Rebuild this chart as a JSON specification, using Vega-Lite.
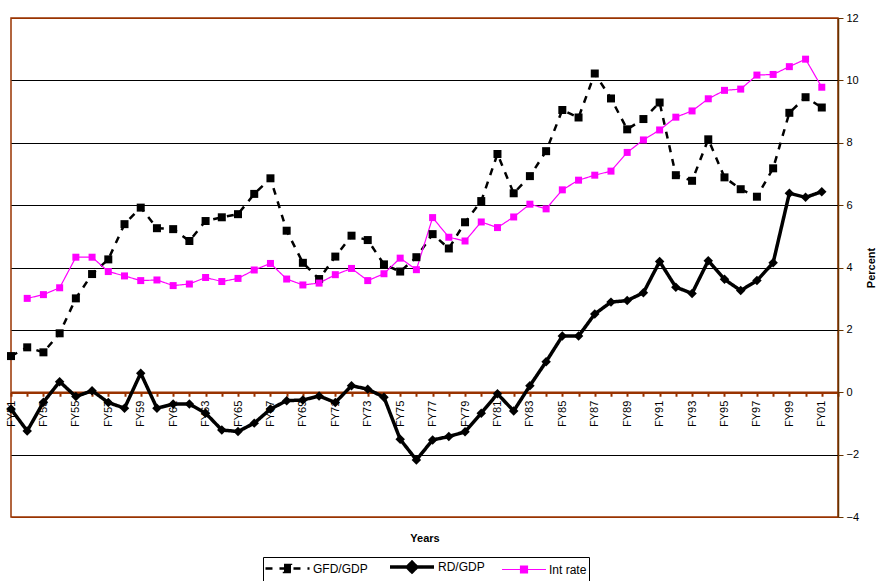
{
  "$schema": "https://vega.github.io/schema/vega-lite/v6.json",
  "width": 827,
  "height": 499,
  "autosize": {"type": "none"},
  "padding": {"left": 11, "top": 18, "right": 45, "bottom": 64},
  "background": "white",
  "config": {
    "font": "Liberation Sans",
    "view": {"stroke": "#993300", "strokeWidth": 1.5}
  },
  "data": {
    "values": [
      {"year": 1951, "GFD/GDP": 1.16, "RD/GDP": -0.54, "Int rate": null},
      {"year": 1952, "GFD/GDP": 1.44, "RD/GDP": -1.24, "Int rate": 3.01},
      {"year": 1953, "GFD/GDP": 1.28, "RD/GDP": -0.32, "Int rate": 3.13},
      {"year": 1954, "GFD/GDP": 1.89, "RD/GDP": 0.34, "Int rate": 3.35},
      {"year": 1955, "GFD/GDP": 3.01, "RD/GDP": -0.14, "Int rate": 4.33},
      {"year": 1956, "GFD/GDP": 3.79, "RD/GDP": 0.05, "Int rate": 4.33},
      {"year": 1957, "GFD/GDP": 4.26, "RD/GDP": -0.33, "Int rate": 3.87},
      {"year": 1958, "GFD/GDP": 5.39, "RD/GDP": -0.51, "Int rate": 3.73},
      {"year": 1959, "GFD/GDP": 5.92, "RD/GDP": 0.61, "Int rate": 3.58},
      {"year": 1960, "GFD/GDP": 5.26, "RD/GDP": -0.51, "Int rate": 3.6},
      {"year": 1961, "GFD/GDP": 5.23, "RD/GDP": -0.38, "Int rate": 3.42},
      {"year": 1962, "GFD/GDP": 4.85, "RD/GDP": -0.38, "Int rate": 3.47},
      {"year": 1963, "GFD/GDP": 5.49, "RD/GDP": -0.67, "Int rate": 3.68},
      {"year": 1964, "GFD/GDP": 5.61, "RD/GDP": -1.21, "Int rate": 3.55},
      {"year": 1965, "GFD/GDP": 5.71, "RD/GDP": -1.26, "Int rate": 3.65},
      {"year": 1966, "GFD/GDP": 6.36, "RD/GDP": -0.99, "Int rate": 3.92},
      {"year": 1967, "GFD/GDP": 6.86, "RD/GDP": -0.54, "Int rate": 4.13},
      {"year": 1968, "GFD/GDP": 5.18, "RD/GDP": -0.27, "Int rate": 3.63},
      {"year": 1969, "GFD/GDP": 4.15, "RD/GDP": -0.25, "Int rate": 3.44},
      {"year": 1970, "GFD/GDP": 3.63, "RD/GDP": -0.12, "Int rate": 3.5},
      {"year": 1971, "GFD/GDP": 4.35, "RD/GDP": -0.33, "Int rate": 3.77},
      {"year": 1972, "GFD/GDP": 5.02, "RD/GDP": 0.21, "Int rate": 3.97},
      {"year": 1973, "GFD/GDP": 4.88, "RD/GDP": 0.1, "Int rate": 3.58},
      {"year": 1974, "GFD/GDP": 4.1, "RD/GDP": -0.16, "Int rate": 3.8},
      {"year": 1975, "GFD/GDP": 3.87, "RD/GDP": -1.51, "Int rate": 4.3},
      {"year": 1976, "GFD/GDP": 4.33, "RD/GDP": -2.17, "Int rate": 3.93},
      {"year": 1977, "GFD/GDP": 5.07, "RD/GDP": -1.53, "Int rate": 5.6},
      {"year": 1978, "GFD/GDP": 4.61, "RD/GDP": -1.42, "Int rate": 4.97},
      {"year": 1979, "GFD/GDP": 5.45, "RD/GDP": -1.27, "Int rate": 4.85},
      {"year": 1980, "GFD/GDP": 6.13, "RD/GDP": -0.67, "Int rate": 5.46},
      {"year": 1981, "GFD/GDP": 7.64, "RD/GDP": -0.05, "Int rate": 5.28},
      {"year": 1982, "GFD/GDP": 6.38, "RD/GDP": -0.6, "Int rate": 5.62},
      {"year": 1983, "GFD/GDP": 6.93, "RD/GDP": 0.21, "Int rate": 6.03},
      {"year": 1984, "GFD/GDP": 7.73, "RD/GDP": 0.98, "Int rate": 5.88},
      {"year": 1985, "GFD/GDP": 9.05, "RD/GDP": 1.8, "Int rate": 6.49},
      {"year": 1986, "GFD/GDP": 8.81, "RD/GDP": 1.8, "Int rate": 6.8},
      {"year": 1987, "GFD/GDP": 10.22, "RD/GDP": 2.51, "Int rate": 6.96},
      {"year": 1988, "GFD/GDP": 9.42, "RD/GDP": 2.89, "Int rate": 7.09},
      {"year": 1989, "GFD/GDP": 8.43, "RD/GDP": 2.94, "Int rate": 7.69},
      {"year": 1990, "GFD/GDP": 8.76, "RD/GDP": 3.19, "Int rate": 8.09},
      {"year": 1991, "GFD/GDP": 9.29, "RD/GDP": 4.19, "Int rate": 8.41},
      {"year": 1992, "GFD/GDP": 6.96, "RD/GDP": 3.37, "Int rate": 8.82},
      {"year": 1993, "GFD/GDP": 6.78, "RD/GDP": 3.17, "Int rate": 9.02},
      {"year": 1994, "GFD/GDP": 8.11, "RD/GDP": 4.22, "Int rate": 9.41},
      {"year": 1995, "GFD/GDP": 6.89, "RD/GDP": 3.62, "Int rate": 9.68},
      {"year": 1996, "GFD/GDP": 6.51, "RD/GDP": 3.26, "Int rate": 9.72},
      {"year": 1997, "GFD/GDP": 6.27, "RD/GDP": 3.58, "Int rate": 10.17},
      {"year": 1998, "GFD/GDP": 7.18, "RD/GDP": 4.15, "Int rate": 10.19},
      {"year": 1999, "GFD/GDP": 8.96, "RD/GDP": 6.38, "Int rate": 10.44},
      {"year": 2000, "GFD/GDP": 9.46, "RD/GDP": 6.25, "Int rate": 10.68},
      {"year": 2001, "GFD/GDP": 9.13, "RD/GDP": 6.43, "Int rate": 9.78}
    ]
  },
  "transform": [
    {"fold": ["GFD/GDP", "RD/GDP", "Int rate"], "as": ["series", "value"]},
    {"filter": "isValid(datum.value)"}
  ],
  "encoding": {
    "x": {
      "field": "year",
      "type": "quantitative",
      "scale": {"domain": [1951, 2002], "nice": false, "zero": false},
      "axis": {
        "orient": "bottom",
        "offset": -124.75,
        "values": [1951,1952,1953,1954,1955,1956,1957,1958,1959,1960,1961,1962,1963,1964,1965,1966,1967,1968,1969,1970,1971,1972,1973,1974,1975,1976,1977,1978,1979,1980,1981,1982,1983,1984,1985,1986,1987,1988,1989,1990,1991,1992,1993,1994,1995,1996,1997,1998,1999,2000,2001,2002],
        "labelExpr": "datum.value % 2 == 1 ? 'FY' + substring(toString(datum.value), 2, 4) : ''",
        "labelAngle": 270,
        "labelAlign": "right",
        "labelBaseline": "middle",
        "labelOverlap": false,
        "labelFontSize": 11,
        "labelColor": "#000000",
        "labelPadding": 4,
        "labelFlush": false,
        "domainColor": "#993300",
        "domainWidth": 2.5,
        "tickColor": "#993300",
        "tickWidth": 2,
        "tickSize": 4,
        "grid": false,
        "title": "Years",
        "titleFontSize": 11,
        "titleFontWeight": "bold",
        "titleColor": "#000000",
        "titleY": 140,
        "titleBaseline": "top"
      }
    },
    "y": {
      "field": "value",
      "type": "quantitative",
      "scale": {"domain": [-4, 12], "nice": false},
      "axis": {
        "orient": "right",
        "values": [-4, -2, 0, 2, 4, 6, 8, 10, 12],
        "grid": true,
        "gridColor": {"condition": {"test": "datum.value == 12 || datum.value == -4", "value": "#993300"}, "value": "#000000"},
        "gridWidth": 1,
        "domainColor": "#663300",
        "domainWidth": 1.5,
        "tickColor": "#663300",
        "tickSize": 5,
        "labelFontSize": 11,
        "labelColor": "#000000",
        "labelPadding": 3,
        "labelFlush": false,
        "title": "Percent",
        "titleFontSize": 11,
        "titleFontWeight": "bold",
        "titleColor": "#000000",
        "titleAngle": 270,
        "titlePadding": 18
      }
    },
    "color": {
      "field": "series",
      "type": "nominal",
      "scale": {"domain": ["GFD/GDP", "RD/GDP", "Int rate"], "range": ["#000000", "#000000", "#FF00FF"]},
      "title": null,
      "legend": {
        "orient": "none",
        "legendX": 252,
        "legendY": 539,
        "direction": "horizontal",
        "strokeColor": "#000000",
        "padding": 2,
        "labelFontSize": 12,
        "labelColor": "#000000",
        "symbolType": "M-1.17,0H6.17M2,-0.58H3.17V0.58H2Z",
        "symbolSize": 144,
        "symbolStrokeWidth": 2,
        "labelOffset": 33,
        "columnPadding": 14,
        "encode": {
          "symbols": {
            "update": {
              "shape": {"signal": "datum.value == 'RD/GDP' ? 'M-1.17,0H6.17M2.5,-0.8L3.3,0L2.5,0.8L1.7,0Z' : 'M-1.17,0H6.17M1.92,-0.58H3.08V0.58H1.92Z'"},
              "size": {"value": 144},
              "stroke": {"signal": "datum.value == 'Int rate' ? '#FF00FF' : '#000000'"},
              "fill": {"signal": "datum.value == 'Int rate' ? '#FF00FF' : '#000000'"},
              "strokeWidth": {"signal": "datum.value == 'Int rate' ? 1.2 : 2.5"},
              "strokeDash": {"signal": "datum.value == 'GFD/GDP' ? [6, 5] : [1, 0]"},
              "opacity": {"value": 1},
              "fillOpacity": {"value": 1},
              "strokeOpacity": {"value": 1}
            }
          }
        }
      }
    }
  },
  "layer": [
    {
      "mark": {"type": "line"},
      "encoding": {
        "strokeDash": {
          "field": "series",
          "type": "nominal",
          "scale": {"domain": ["GFD/GDP", "RD/GDP", "Int rate"], "range": [[7, 7], [1, 0], [1, 0]]},
          "title": null
        },
        "strokeWidth": {
          "field": "series",
          "type": "nominal",
          "scale": {"type": "ordinal", "domain": ["GFD/GDP", "RD/GDP", "Int rate"], "range": [2.5, 3.5, 1.2]},
          "legend": null
        }
      }
    },
    {
      "transform": [{"filter": "datum.series == 'GFD/GDP'"}],
      "mark": {"type": "point", "filled": true, "opacity": 1, "shape": "square", "size": 64}
    },
    {
      "transform": [{"filter": "datum.series == 'RD/GDP'"}],
      "mark": {"type": "point", "filled": true, "opacity": 1, "shape": "diamond", "size": 90}
    },
    {
      "transform": [{"filter": "datum.series == 'Int rate'"}],
      "mark": {"type": "point", "filled": true, "opacity": 1, "shape": "square", "size": 49}
    }
  ]
}
